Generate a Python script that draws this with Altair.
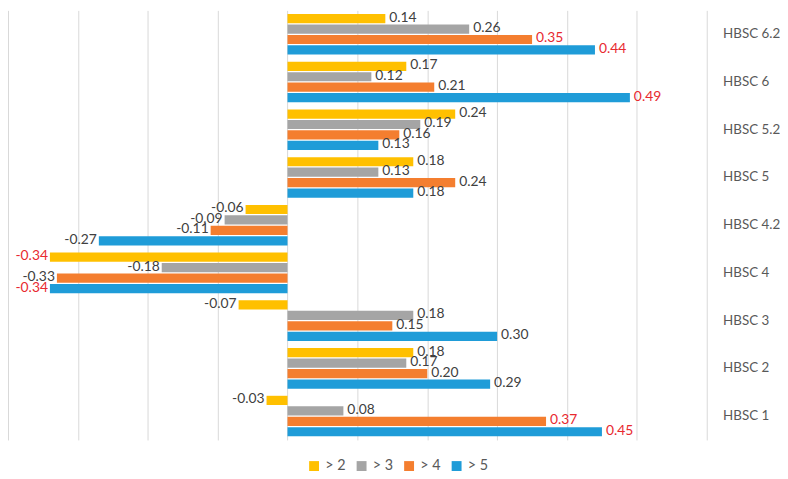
import altair as alt
import pandas as pd

categories = ["HBSC 6.2", "HBSC 6", "HBSC 5.2", "HBSC 5", "HBSC 4.2",
              "HBSC 4", "HBSC 3", "HBSC 2", "HBSC 1"]
series = ["> 2", "> 3", "> 4", "> 5"]
v_gt2 = [0.14, 0.17, 0.24, 0.18, -0.06, -0.34, -0.07, 0.18, -0.03]
v_gt3 = [0.26, 0.12, 0.19, 0.13, -0.09, -0.18, 0.18, 0.17, 0.08]
v_gt4 = [0.35, 0.21, 0.16, 0.24, -0.11, -0.33, 0.15, 0.20, 0.37]
v_gt5 = [0.44, 0.49, 0.13, 0.18, -0.27, -0.34, 0.30, 0.29, 0.45]
colors = ["#FFC000", "#A5A5A5", "#F47E2F", "#1F9CD8"]
grid_ticks = [-0.4, -0.3, -0.2, -0.1, 0.0, 0.1, 0.2, 0.3, 0.4, 0.5, 0.6]

rows = []
for s, vals in zip(series, [v_gt2, v_gt3, v_gt4, v_gt5]):
    for c, v in zip(categories, vals):
        rows.append({"cat": c, "series": s, "value": v, "label": f"{v:.2f}"})
df = pd.DataFrame(rows)

FONT = "Lato"

y_enc = alt.Y("cat:N", sort=categories,
              scale=alt.Scale(paddingInner=0.15, paddingOuter=0.075),
              axis=alt.Axis(orient="right", title=None, domain=False, ticks=False,
                            labelPadding=16, labelFontSize=13.5, labelColor="#595959",
                            labelFont=FONT, grid=False))
yoff = alt.YOffset("series:N", sort=series,
                   scale=alt.Scale(paddingInner=0.12, paddingOuter=0))
x_enc = alt.X("value:Q", scale=alt.Scale(domain=[-0.4, 0.6], nice=False, zero=False),
              axis=alt.Axis(title=None, labels=False, ticks=False, domain=False,
                            values=grid_ticks, grid=True, gridColor="#D9D9D9",
                            gridWidth=1))

bars = alt.Chart(df).mark_bar().encode(
    x=x_enc,
    y=y_enc,
    yOffset=yoff,
    color=alt.Color("series:N", sort=series,
                    scale=alt.Scale(domain=series, range=colors),
                    legend=alt.Legend(title=None, orient="none", direction="horizontal",
                                      legendX=302, legendY=453,
                                      symbolType="square", symbolSize=100,
                                      symbolStrokeWidth=0,
                                      labelFontSize=14.5, labelColor="#595959",
                                      labelFont=FONT, columnPadding=8,
                                      labelOffset=4)),
)

label_color = alt.condition("abs(datum.value) >= 0.335",
                            alt.value("#E8292F"), alt.value("#404040"))

pos_labels = alt.Chart(df).transform_filter("datum.value >= 0").mark_text(
    align="left", baseline="middle", dx=4, dy=-1, fontSize=14, font=FONT
).encode(
    x="value:Q", y=alt.Y("cat:N", sort=categories), yOffset=yoff,
    text="label:N", color=label_color,
)
neg_labels = alt.Chart(df).transform_filter("datum.value < 0").mark_text(
    align="right", baseline="middle", dx=-2, dy=-1, fontSize=14, font=FONT
).encode(
    x="value:Q", y=alt.Y("cat:N", sort=categories), yOffset=yoff,
    text="label:N", color=label_color,
)

chart = alt.layer(bars, pos_labels, neg_labels).properties(
    width=706, height=434,
    padding={"left": 0, "top": 0, "right": 0, "bottom": 0},
    background="white",
).configure_view(stroke=None)

chart.save("out.html", embed_options={"renderer": "svg", "actions": False})
